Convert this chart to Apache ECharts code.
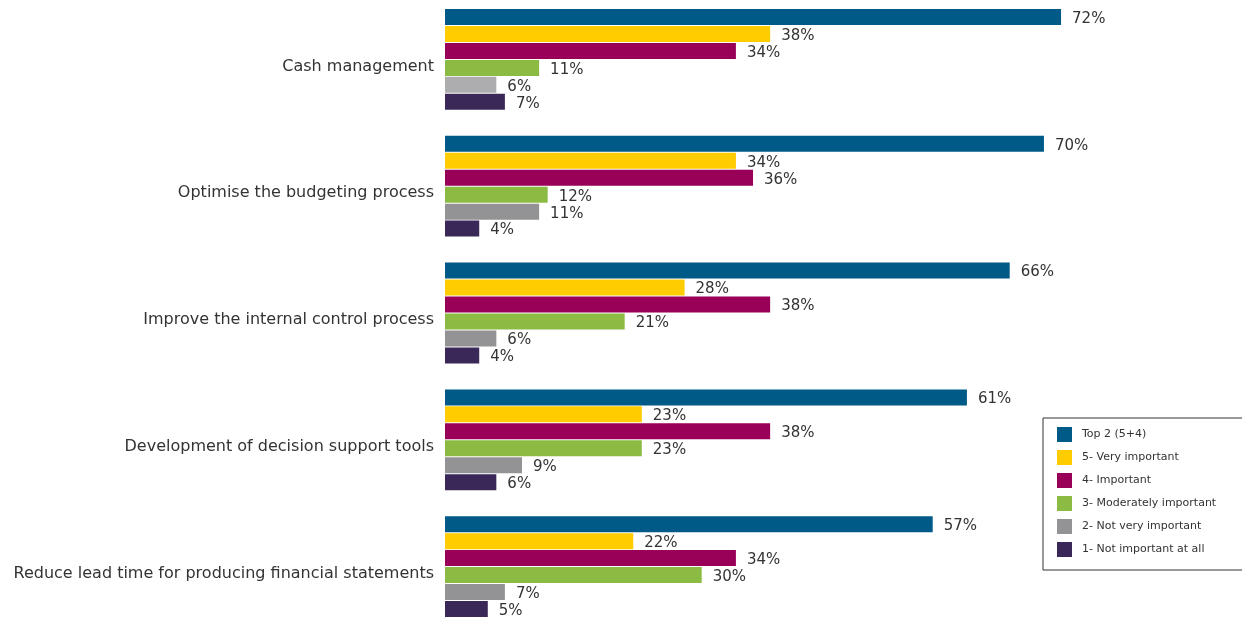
<!DOCTYPE html>
<html><head><meta charset="utf-8">
<script src="https://cdn.jsdelivr.net/npm/echarts@6/dist/echarts.min.js"></script>
<style>html,body{margin:0;padding:0;background:#fff}#c{width:1242px;height:617px}</style>
</head><body><div id="c"></div>
<script>
const categories = ["Cash management","Optimise the budgeting process","Improve the internal control process","Development of decision support tools","Reduce lead time for producing financial statements"];
const seriesNames = ["Top 2 (5+4)","5- Very important","4- Important","3- Moderately important","2- Not very important","1- Not important at all"];
const top2 = [72,70,66,61,57];
const veryImportant = [38,34,28,23,22];
const important = [34,36,38,38,34];
const moderately = [11,12,21,23,30];
const notVery = [6,11,6,9,7];
const notAtAll = [7,4,4,6,5];
const values = [top2,veryImportant,important,moderately,notVery,notAtAll];
const colors = ["#005A87","#FFCC00","#990057","#8BBB42","#939396","#3A2858"];
const FONT = 'DejaVu Sans';

const chart = echarts.init(document.getElementById('c'));
chart.setOption({
  animation:false,
  textStyle:{fontFamily:FONT},
  grid:{left:445,top:-4,height:634,width:684.5,containLabel:false,outerBoundsMode:'none'},
  xAxis:{type:'value',min:0,max:80,show:false},
  yAxis:{type:'category',data:categories,inverse:true,
    axisLine:{show:false},axisTick:{show:false},
    axisLabel:{fontSize:16,color:'#333',margin:11,fontFamily:FONT,verticalAlign:'top',lineHeight:14}},
  legend:{orient:'vertical',left:1043,top:418,itemWidth:15,itemHeight:15,itemGap:8,
    padding:[9,60,13,14],borderColor:'#333',borderWidth:1,icon:'rect',
    textStyle:{fontSize:11,color:'#333',fontFamily:FONT,padding:[0,0,0,5]},data:seriesNames},
  series: seriesNames.map((n,i)=>({
    name:n,type:'bar',barWidth:16,barGap:'6%',
    data:values[i].map((v,j)=>(i===4&&j===0)?{value:v,itemStyle:{color:'#ADADB0'}}:v),
    itemStyle:{color:colors[i]},
    label:{show:true,position:'right',distance:11,offset:[0,2],formatter:'{c}%',fontSize:15,color:'#333',fontFamily:FONT}
  }))
});
</script></body></html>
